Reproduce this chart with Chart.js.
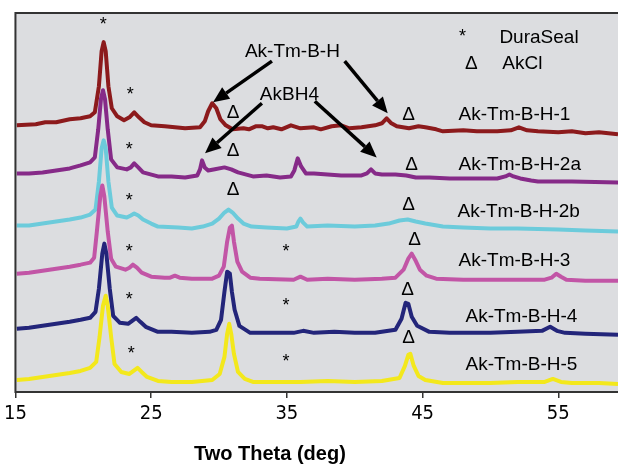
<!DOCTYPE html>
<html>
<head>
<meta charset="utf-8">
<script src="https://cdn.jsdelivr.net/npm/chart.js@4.4.1/dist/chart.umd.min.js"></script>
<style>
body { margin: 0; background: #fff; }
#wrap { width: 618px; height: 464px; }
</style>
</head>
<body>
<div id="wrap"><canvas id="chart"></canvas></div>
<script>
// x ticks (two theta, deg)
var xTicks = [15, 25, 35, 45, 55];

var sampleNames = ["Ak-Tm-B-H-1", "Ak-Tm-B-H-2a", "Ak-Tm-B-H-2b", "Ak-Tm-B-H-3", "Ak-Tm-B-H-4", "Ak-Tm-B-H-5"];
var sampleColors = ["#8c1a1c", "#862a88", "#6ccbdb", "#c255a6", "#23257a", "#f3e81c"];

// [two theta, intensity + offset]
var sample1 = [[15.1,266],[16.5,267],[17.2,269],[18,269],[19,272],[19.8,273],[20.5,275],[20.85,279],[21.15,305],[21.35,340],[21.5,349],[21.65,340],[21.85,305],[22.1,283],[22.5,275],[23.0,271],[23.4,274],[23.75,279],[24.1,274],[24.5,269],[25.0,266],[26,265],[27.5,263],[28.6,264],[28.95,270],[29.2,280],[29.5,288],[29.8,283],[30.1,272],[30.5,266],[31,262],[31.8,263],[32.2,262],[32.7,265],[33.2,265],[33.6,263],[34,264],[34.6,262],[35.3,266],[36,263],[37,264],[37.5,262],[38.3,265],[39,266],[39.6,263],[40.5,264],[41.5,266],[42.0,268],[42.35,273],[42.7,268],[43.1,265],[44,263],[44.7,265],[45.2,264],[46,262],[46.5,260],[48,261],[49,260],[50.5,260],[51.5,261],[52.1,264],[52.7,261],[53.5,260],[55,259],[56,260],[57,258],[58,259],[59.4,257]];
var sample2 = [[15.1,218],[16,218],[17,219],[18,221],[19,223],[19.8,226],[20.5,229],[20.85,234],[21.1,262],[21.3,292],[21.45,301],[21.6,292],[21.8,262],[22.05,232],[22.5,224],[23.2,222],[23.5,224],[23.75,228],[24.05,224],[24.4,219],[25.5,215],[26.5,215],[27.5,214],[28.4,216],[28.6,222],[28.75,231],[28.95,224],[29.2,221],[29.6,222],[30.4,224],[30.9,222],[31.4,219],[32.5,215],[33.5,216],[34.5,214],[35.3,215],[35.55,221],[35.8,233],[36.05,225],[36.4,218],[37,218],[38,217],[39,216],[40.5,216],[40.9,218],[41.2,222],[41.5,218],[42,217],[43,217],[43.8,216],[44.5,214],[45.5,214],[47,213],[48.5,213],[50.5,213],[51.1,215],[51.4,217],[51.7,215],[52.2,213],[53,211],[53.5,210],[56,210],[59.4,209]];
var sample3 = [[15.1,166],[16,166],[17,168],[18,170],[19,172],[19.8,174],[20.5,177],[20.9,182],[21.15,210],[21.35,243],[21.5,251],[21.65,243],[21.85,210],[22.1,184],[22.5,176],[23.2,174],[23.5,176],[23.75,178],[24.05,176],[24.4,172],[25.0,168],[25.5,165],[27,164],[28,163],[28.8,165],[29.5,168],[30.0,173],[30.4,179],[30.7,182],[31.0,179],[31.4,173],[31.8,168],[32.4,165],[33.5,164],[35,163],[35.7,165],[35.85,170],[36.0,173],[36.2,169],[36.5,165],[38,166],[40,165],[41.5,166],[42.5,168],[43.3,171],[43.9,172],[44.5,170],[45.2,168],[46.5,165],[48,164],[50,163],[52,163],[55,162],[57,161],[59.4,160]];
var sample4 = [[15.1,118],[16,119],[17,121],[18,123],[19,125],[19.8,127],[20.5,129],[20.8,134],[21.0,160],[21.25,195],[21.4,206],[21.55,195],[21.8,160],[22.05,133],[22.4,125],[23.1,122],[23.4,124],[23.65,127],[23.95,124],[24.3,119],[25,115],[26.0,114],[26.4,114],[26.75,116],[27.1,114],[28,113],[29.5,113],[30.0,116],[30.35,125],[30.6,150],[30.8,164],[30.95,166],[31.1,150],[31.35,130],[31.7,120],[32.3,114],[33,113],[35.5,112],[36.0,115],[36.5,112],[38,113],[40,112],[42,113],[43,114],[43.6,122],[43.95,133],[44.2,138],[44.45,132],[44.8,122],[45.3,116],[46,113],[48,112],[50,112],[52,112],[54,112],[54.5,114],[54.85,118],[55.2,115],[55.6,112],[57,111],[59.4,111]];
var sample5 = [[15.1,63],[16,64],[17,66],[18,68],[19,70],[19.8,72],[20.5,74],[20.9,80],[21.15,103],[21.4,138],[21.55,148],[21.7,138],[21.95,103],[22.2,76],[22.7,69],[23.3,68],[23.6,71],[23.9,74],[24.2,70],[24.6,65],[25.5,60],[26.5,60],[28,59],[29.3,60],[29.8,62],[30.15,72],[30.4,100],[30.6,120],[30.8,118],[30.95,100],[31.15,82],[31.5,66],[32.3,59],[33.5,59],[35.5,59],[36.2,61],[37,59],[38.5,60],[40,59],[41.5,59],[43.0,62],[43.45,73],[43.75,89],[43.95,88],[44.2,75],[44.6,66],[45.5,60],[47,59],[50,59],[52,60],[53.8,61],[54.4,65],[54.9,61],[55.5,59],[57,58],[59.4,57]];
var sample6 = [[15.1,12],[16,13],[17,15],[18,17],[19,19],[19.8,21],[20.5,24],[20.95,30],[21.2,55],[21.45,86],[21.65,96],[21.8,86],[22.05,55],[22.3,28],[22.8,20],[23.4,18],[23.7,21],[24.0,24],[24.3,20],[24.7,15],[25.5,11],[26.5,10],[28,10],[29.5,12],[30.05,18],[30.4,35],[30.6,58],[30.75,68],[30.9,58],[31.1,38],[31.4,20],[31.9,13],[32.5,10],[34,10],[36,10],[38,11],[40,10],[42,11],[43.3,14],[43.7,26],[43.95,37],[44.1,38],[44.35,26],[44.7,16],[45.2,12],[46.5,9],[48,9],[50,9],[52,10],[54,10],[54.6,13],[55.2,10],[56,9],[58,9],[59.4,8]];
var samples = [sample1, sample2, sample3, sample4, sample5, sample6];

// annotation places, in data units
var labelPos = [[47.65,278],[47.65,228],[47.57,182],[47.65,133],[48.16,77],[48.16,29]];
var starMarks = [[21.47,371],[23.46,301],[23.38,246],[23.38,195],[23.38,145],[23.38,97],[23.53,43],[34.93,145],[34.93,91],[34.93,35]];
var deltaMarks = [[31.03,280],[31.03,242],[31.03,203],[43.97,278],[44.19,228],[43.97,189],[44.41,154],[43.9,104],[43.97,56]];
var arrows = [[33.9,330,29.56,289],[39.26,330,42.43,278],[33.16,288,28.97,238],[37.06,290,41.62,234]];

var FONT = "'Liberation Sans', Arial, sans-serif";

function drawArrow(ctx, x1, y1, x2, y2){
  var a = Math.atan2(y2 - y1, x2 - x1);
  var head = 16, w = 7;
  var bx = x2 - head * Math.cos(a), by = y2 - head * Math.sin(a);
  ctx.beginPath();
  ctx.moveTo(x1, y1);
  ctx.lineTo(bx, by);
  ctx.lineWidth = 3.5;
  ctx.stroke();
  ctx.beginPath();
  ctx.moveTo(x2, y2);
  ctx.lineTo(bx + w * Math.sin(a), by - w * Math.cos(a));
  ctx.lineTo(bx - w * Math.sin(a), by + w * Math.cos(a));
  ctx.closePath();
  ctx.fill();
}

var plotDecor = {
  id: 'plotDecor',
  beforeDraw: function(chart){
    var ctx = chart.ctx, a = chart.chartArea;
    ctx.save();
    ctx.fillStyle = '#dcdde0';
    ctx.fillRect(a.left, a.top, a.right - a.left, a.bottom - a.top);
    ctx.restore();
  },
  afterDatasetsDraw: function(chart){
    var ctx = chart.ctx, a = chart.chartArea;
    var xs = chart.scales.x, ys = chart.scales.y;
    ctx.save();
    // frame
    ctx.strokeStyle = '#333';
    ctx.lineWidth = 2;
    ctx.beginPath();
    ctx.moveTo(chart.width, a.top);
    ctx.lineTo(a.left, a.top);
    ctx.lineTo(a.left, a.bottom);
    ctx.lineTo(chart.width, a.bottom);
    ctx.stroke();

    ctx.fillStyle = '#000';
    ctx.strokeStyle = '#000';
    ctx.textBaseline = 'alphabetic';

    // sample names
    ctx.font = '19px ' + FONT;
    ctx.textAlign = 'left';
    for (var i = 0; i < sampleNames.length; i++) {
      ctx.fillText(sampleNames[i], xs.getPixelForValue(labelPos[i][0]), ys.getPixelForValue(labelPos[i][1]) + 7);
    }
    ctx.fillText('Ak-Tm-B-H', xs.getPixelForValue(31.91), ys.getPixelForValue(341) + 7);
    ctx.fillText('AkBH4', xs.getPixelForValue(33.01), ys.getPixelForValue(298) + 7);
    ctx.fillText('DuraSeal', xs.getPixelForValue(50.66), ys.getPixelForValue(355) + 7);
    ctx.fillText('AkCl', xs.getPixelForValue(50.88), ys.getPixelForValue(329) + 7);

    // marks
    ctx.textAlign = 'center';
    ctx.font = '18px ' + FONT;
    starMarks.concat([[47.94,359]]).forEach(function(p){
      ctx.fillText('*', xs.getPixelForValue(p[0]), ys.getPixelForValue(p[1]) + 10);
    });
    ctx.font = '19px ' + FONT;
    deltaMarks.concat([[48.6,329]]).forEach(function(p){
      ctx.fillText('\u0394', xs.getPixelForValue(p[0]), ys.getPixelForValue(p[1]) + 7);
    });

    arrows.forEach(function(r){
      drawArrow(ctx, xs.getPixelForValue(r[0]), ys.getPixelForValue(r[1]), xs.getPixelForValue(r[2]), ys.getPixelForValue(r[3]));
    });

    // axis title
    ctx.font = 'bold 20px ' + FONT;
    ctx.fillText('Two Theta (deg)', xs.getPixelForValue(33.75), a.bottom + 68);
    ctx.restore();
  }
};

var datasets = samples.map(function(s, i){
  return {
    label: sampleNames[i],
    data: s.map(function(p){ return {x: p[0], y: p[1]}; }),
    borderColor: sampleColors[i],
    borderWidth: 4,
    borderJoinStyle: 'round',
    pointRadius: 0,
    showLine: true,
    tension: 0,
    order: samples.length - i
  };
});

var line_chart = new Chart(document.getElementById('chart'), {
  type: 'scatter',
  data: { datasets: datasets },
  options: {
    responsive: true,
    maintainAspectRatio: false,
    animation: false,
    layout: { padding: { left: 15, top: 13, right: 0, bottom: 34 } },
    plugins: { legend: { display: false }, tooltip: { enabled: false } },
    scales: {
      x: {
        type: 'linear',
        min: 15,
        max: 59.4,
        afterBuildTicks: function(axis){
          axis.ticks = xTicks.map(function(v){ return {value: v}; });
        },
        grid: { drawOnChartArea: false, drawTicks: true, tickLength: 6, color: '#333', lineWidth: 1.5 },
        border: { display: false },
        ticks: {
          color: '#000',
          padding: 4,
          maxRotation: 0,
          font: { family: "'Liberation Sans Narrow', 'DejaVu Sans Condensed', Arial, sans-serif", size: 20 }
        }
      },
      y: { display: false, min: 0, max: 378 }
    }
  },
  plugins: [plotDecor]
});
</script>
</body>
</html>
